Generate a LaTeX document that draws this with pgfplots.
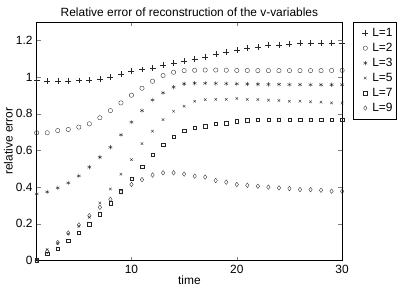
\documentclass[border=0pt]{standalone}
\usepackage{fontspec}
\setmainfont{Liberation Sans}
\usepackage{pgfplots}
\pgfplotsset{compat=1.18}
\begin{document}
\fontsize{12}{14}\selectfont
\begin{tikzpicture}
\begin{axis}[
  scale only axis,
  width=306bp, height=239bp,
  xmin=1, xmax=30, ymin=0, ymax=1.3,
  xtick={10,20,30},
  ytick={0,0.2,0.4,0.6,0.8,1,1.2},
  yticklabels={0,0.2,0.4,0.6,0.8,1,1.2},
  tick align=inside, tick pos=both,
  major tick length=4bp,
  /pgf/number format/assume math mode=true,
  tick label style={font=\fontsize{12}{14}\selectfont},
  label style={font=\fontsize{12}{14}\selectfont},
  title={Relative error of reconstruction of the v-variables},
  title style={font=\fontsize{12}{14}\selectfont, yshift=-5bp},
  xlabel={time}, ylabel={relative error},
  xlabel style={yshift=5bp},
  ylabel style={yshift=-5bp},
  axis line style={black, line width=0.5pt},
  every axis plot/.append style={only marks, black!85, line width=0.35pt},
  legend style={at={(1.036,1)}, anchor=north west, draw=black, line width=0.5pt,
    font=\fontsize{12}{14}\selectfont, row sep=0bp, inner xsep=2bp, inner ysep=3.5bp},
  legend image code/.code={\path[draw=none] (0bp,-7.5bp) rectangle (15bp,7.5bp); \draw[#1] plot coordinates {(10bp,0bp)};},
  legend cell align=left,
]
\addplot[mark=+, mark size=3pt] coordinates {
(1,0.981)(2,0.977)(3,0.977)(4,0.977)(5,0.981)(6,0.985)(7,0.990)(8,1.001)(9,1.017)(10,1.032)
(11,1.041)(12,1.050)(13,1.063)(14,1.074)(15,1.086)(16,1.099)(17,1.110)(18,1.126)(19,1.137)(20,1.146)
(21,1.157)(22,1.165)(23,1.172)(24,1.175)(25,1.179)(26,1.183)(27,1.184)(28,1.186)(29,1.186)(30,1.186)};
\addlegendentry{L=1}
\addplot[mark=o, mark size=2.2pt] coordinates {
(1,0.696)(2,0.696)(3,0.708)(4,0.714)(5,0.727)(6,0.745)(7,0.778)(8,0.817)(9,0.859)(10,0.901)
(11,0.939)(12,0.977)(13,1.008)(14,1.026)(15,1.035)(16,1.037)(17,1.038)(18,1.038)(19,1.037)(20,1.036)
(21,1.036)(22,1.035)(23,1.035)(24,1.035)(25,1.035)(26,1.035)(27,1.035)(28,1.035)(29,1.036)(30,1.036)};
\addlegendentry{L=2}
\addplot[mark=asterisk, mark size=2.2pt] coordinates {
(1,0.363)(2,0.374)(3,0.396)(4,0.423)(5,0.461)(6,0.509)(7,0.563)(8,0.617)(9,0.685)(10,0.754)
(11,0.817)(12,0.875)(13,0.914)(14,0.945)(15,0.963)(16,0.966)(17,0.966)(18,0.965)(19,0.964)(20,0.963)
(21,0.962)(22,0.961)(23,0.960)(24,0.960)(25,0.959)(26,0.959)(27,0.958)(28,0.958)(29,0.958)(30,0.958)};
\addlegendentry{L=3}
\addplot[mark=x, mark size=1.8pt] coordinates {
(1,0.005)(2,0.060)(3,0.095)(4,0.145)(5,0.187)(6,0.236)(7,0.314)(8,0.390)(9,0.470)(10,0.550)
(11,0.637)(12,0.705)(13,0.768)(14,0.814)(15,0.841)(16,0.868)(17,0.877)(18,0.878)(19,0.878)(20,0.883)
(21,0.878)(22,0.877)(23,0.874)(24,0.872)(25,0.868)(26,0.868)(27,0.865)(28,0.863)(29,0.859)(30,0.859)};
\addlegendentry{L=5}
\addplot[mark=square, mark size=1.7pt] coordinates {
(1,0.003)(2,0.038)(3,0.066)(4,0.107)(5,0.151)(6,0.198)(7,0.252)(8,0.312)(9,0.378)(10,0.445)
(11,0.510)(12,0.576)(13,0.630)(14,0.674)(15,0.708)(16,0.723)(17,0.732)(18,0.747)(19,0.748)(20,0.760)
(21,0.764)(22,0.766)(23,0.767)(24,0.768)(25,0.768)(26,0.768)(27,0.768)(28,0.768)(29,0.768)(30,0.768)};
\addlegendentry{L=7}
\addplot[mark=diamond, mark size=2.3pt] coordinates {
(1,0.000)(2,0.050)(3,0.098)(4,0.150)(5,0.194)(6,0.244)(7,0.290)(8,0.334)(9,0.374)(10,0.415)
(11,0.441)(12,0.466)(13,0.478)(14,0.478)(15,0.471)(16,0.460)(17,0.455)(18,0.436)(19,0.427)(20,0.414)
(21,0.410)(22,0.405)(23,0.400)(24,0.396)(25,0.392)(26,0.387)(27,0.386)(28,0.383)(29,0.378)(30,0.377)};
\addlegendentry{L=9}
\end{axis}
\path ([shift={(-36bp,-33bp)}]current axis.south west) rectangle ([shift={(73bp,22bp)}]current axis.north east);
\end{tikzpicture}
\end{document}
